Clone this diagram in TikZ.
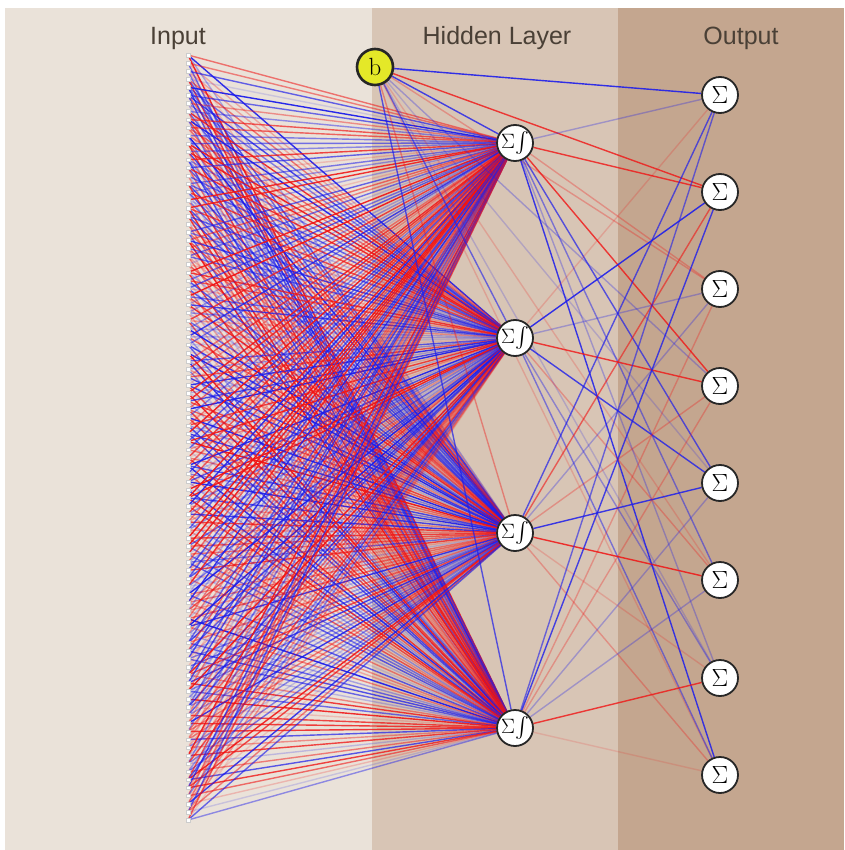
\documentclass[tikz,border=0pt]{standalone}
\usepackage{amsmath}
\usepackage[no-math]{fontspec}
\setmainfont{Liberation Sans}
\pgfdeclarelayer{bg}
\pgfdeclarelayer{edges}
\pgfsetlayers{bg,edges,main}
\definecolor{panelA}{RGB}{234,226,217}
\definecolor{panelB}{RGB}{216,197,181}
\definecolor{panelC}{RGB}{196,166,143}
\definecolor{labelcol}{RGB}{74,64,54}
\definecolor{wred}{RGB}{240,20,20}
\definecolor{wblue}{RGB}{30,30,235}
\definecolor{biasfill}{RGB}{228,232,40}
\tikzset{
  layerlabel/.style={font=\fontsize{25}{25}\selectfont, text=labelcol, anchor=base},
  innode/.style={rectangle, minimum size=3.5pt, inner sep=0pt, fill=white, draw=black!20, line width=0.3pt},
  neuron/.style={circle, minimum size=36pt, inner sep=0pt, fill=white, draw=black!85, line width=1.8pt,
    font=\fontsize{24}{24}\selectfont},
  hidnode/.style={neuron, font=\fontsize{20}{20}\selectfont},
  biasnode/.style={neuron, fill=biasfill, line width=2.6pt, font=\fontsize{28}{28}\selectfont},
  wedge/.style={line width=1.4pt},
  redw/.style={wedge, draw=wred},
  bluew/.style={wedge, draw=wblue},
}
\begin{document}
\begin{tikzpicture}[x=1pt,y=-1pt]
\useasboundingbox (0,0) rectangle (844,850);

% column panels
\begin{pgfonlayer}{bg}
\fill[white] (0,0) rectangle (844,850);
\fill[panelA] (5,8) rectangle (372,850);
\fill[panelB] (372,8) rectangle (618,850);
\fill[panelC] (618,8) rectangle (844,850);
\end{pgfonlayer}

% column titles
\node[layerlabel] (tin)  at (178,45) {Input};
\node[layerlabel] (thid) at (497,45) {Hidden Layer};
\node[layerlabel] (tout) at (741,45) {Output};

% input units
\foreach \i in {1,...,96}
  \node[innode] (in\i) at (188,{55+(\i-1)*8.0526}) {};

% hidden units: sum followed by integral
\foreach \j/\y in {1/143,2/338,3/533,4/728}
  \node[hidnode] (h\j) at (515,\y) {$\Sigma\mkern-3mu\int$};

% output units
\foreach \k/\y in {1/95,2/192,3/289,4/386,5/483,6/580,7/678,8/775}
  \node[neuron] (o\k) at (720,\y) {$\Sigma$};

% bias unit
\node[biasnode] (b) at (375,67) {$\mathrm{b}$};

\begin{pgfonlayer}{edges}
% input -> hidden weights
\pgfmathsetseed{1234}
\foreach \i in {1,...,96}{
  \foreach \j in {1,...,4}{
    \pgfmathrandominteger{\c}{0}{1}
    \pgfmathsetmacro{\op}{0.12+0.85*rnd}
    \ifnum\c=0 \def\wsty{redw}\else\def\wsty{bluew}\fi
    \draw[\wsty, draw opacity=\op] (in\i) -- (h\j);
  }
}
% bias -> hidden
\foreach \j/\s/\o in {1/bluew/0.8,2/bluew/0.6,3/redw/0.4,4/bluew/0.7}
  \draw[\s, draw opacity=\o] (b) -- (h\j);
% bias -> output
\foreach \k/\s/\o in {1/bluew/0.9,2/redw/0.8,3/redw/0.3,4/bluew/0.3,5/bluew/0.2,6/redw/0.2,7/bluew/0.2,8/redw/0.2}
  \draw[\s, draw opacity=\o] (b) -- (o\k);
% hidden -> output
\foreach \j/\k/\s/\o in {
  1/1/bluew/0.3, 1/2/redw/0.8, 1/3/redw/0.3, 1/4/redw/0.8, 1/5/bluew/0.7, 1/6/bluew/0.5, 1/7/bluew/0.3, 1/8/bluew/0.85,
  2/1/redw/0.2, 2/2/bluew/0.9, 2/3/bluew/0.3, 2/4/redw/0.8, 2/5/bluew/0.8, 2/6/redw/0.3, 2/7/bluew/0.4, 2/8/bluew/0.5,
  3/1/bluew/0.7, 3/2/redw/0.6, 3/3/bluew/0.3, 3/4/redw/0.3, 3/5/bluew/0.85, 3/6/redw/0.85, 3/7/redw/0.2, 3/8/redw/0.3,
  4/1/bluew/0.6, 4/2/bluew/0.8, 4/3/redw/0.3, 4/4/redw/0.3, 4/5/bluew/0.3, 4/6/bluew/0.3, 4/7/redw/0.8, 4/8/redw/0.15}
  \draw[\s, draw opacity=\o] (h\j) -- (o\k);
\end{pgfonlayer}
\end{tikzpicture}
\end{document}
